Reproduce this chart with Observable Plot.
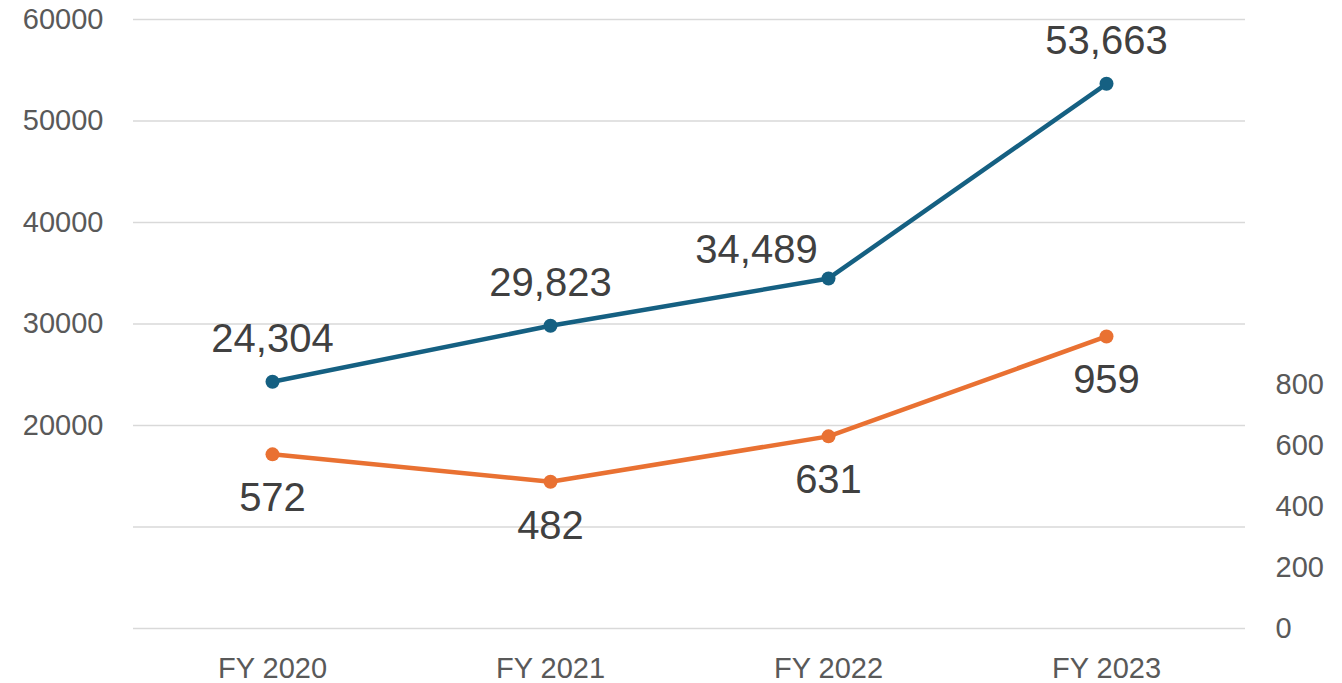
<!DOCTYPE html>
<html>
<head>
<meta charset="utf-8">
<script src="https://cdn.jsdelivr.net/npm/d3@7"></script>
<script src="https://cdn.jsdelivr.net/npm/@observablehq/plot@0.6"></script>
<style>
  html, body { margin: 0; padding: 0; background: #fff; }
  svg { font-family: "Liberation Sans", Arial, sans-serif; }
</style>
</head>
<body>
<div id="chart"></div>
<script>
const years = ["FY 2020", "FY 2021", "FY 2022", "FY 2023"];
const blueValues = [24304, 29823, 34489, 53663];
const orangeValues = [572, 482, 631, 959];
const blueLabelMoved = [false, false, true, false];
const leftTickLabels = [20000, 30000, 40000, 50000, 60000];
const gridValues = [0, 10000, 20000, 30000, 40000, 50000, 60000];
const rightTickLabels = [0, 200, 400, 600, 800];
const leftMax = 60000;
const rightMax = 2000;
const ratio = leftMax / rightMax;

const blue = years.map((y, i) => ({year: y, value: blueValues[i], moved: blueLabelMoved[i]}));
const orange = years.map((y, i) => ({year: y, value: orangeValues[i], scaled: orangeValues[i] * ratio}));
const rightTicks = rightTickLabels.map(v => v * ratio);

const fmt = d3.format(",");

const chart = Plot.plot({
  width: 1342,
  height: 683,
  marginLeft: 133,
  marginRight: 97,
  marginTop: 19,
  marginBottom: 55,
  style: {fontFamily: '"Liberation Sans", Arial, sans-serif', background: "#fff"},
  x: {type: "point", domain: years, padding: 0.5},
  y: {domain: [0, leftMax]},
  marks: [
    Plot.gridY(gridValues, {stroke: "#d9d9d9", strokeOpacity: 1, strokeWidth: 1.5}),
    Plot.axisY(leftTickLabels, {anchor: "left", tickSize: 0, tickPadding: 30, fontSize: 29, fill: "#595959", tickFormat: d => String(d), label: null}),
    Plot.axisY(rightTicks, {anchor: "right", tickSize: 0, tickPadding: 30, fontSize: 29, fill: "#595959", tickFormat: d => String(Math.round(d / ratio)), label: null}),
    Plot.axisX({tickSize: 0, tickPadding: 29, fontSize: 29, fill: "#595959", label: null}),
    Plot.line(blue, {x: "year", y: "value", stroke: "#156082", strokeWidth: 4.5}),
    Plot.dot(blue, {x: "year", y: "value", fill: "#156082", r: 7}),
    Plot.line(orange, {x: "year", y: "scaled", stroke: "#e97132", strokeWidth: 4.5}),
    Plot.dot(orange, {x: "year", y: "scaled", fill: "#e97132", r: 7}),
    Plot.text(blue, Plot.filter(d => !d.moved, {x: "year", y: "value", text: d => fmt(d.value), dy: -43, fontSize: 40, fill: "#404040"})),
    Plot.text(blue, Plot.filter(d => d.moved, {x: "year", y: "value", text: d => fmt(d.value), dy: -28, dx: -72, fontSize: 40, fill: "#404040"})),
    Plot.text(orange, {x: "year", y: "scaled", text: d => String(d.value), dy: 44, fontSize: 40, fill: "#404040"})
  ]
});

document.getElementById("chart").appendChild(chart);
</script>
</body>
</html>
